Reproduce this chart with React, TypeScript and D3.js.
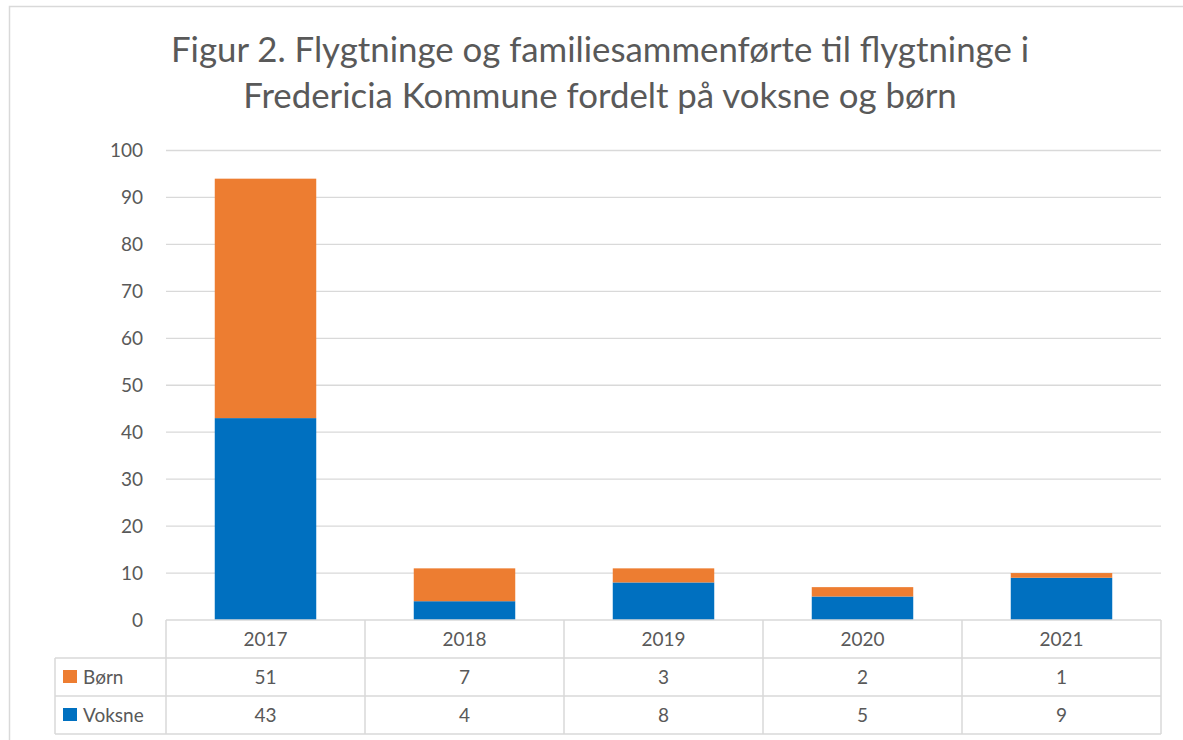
import * as d3 from "d3";
import React from "react";

const years = ["2017", "2018", "2019", "2020", "2021"];
const born = [51, 7, 3, 2, 1];
const voksne = [43, 4, 8, 5, 9];
const yTicks = [0, 10, 20, 30, 40, 50, 60, 70, 80, 90, 100];
const titleLines = [
  "Figur 2. Flygtninge og familiesammenførte til flygtninge i",
  "Fredericia Kommune fordelt på voksne og børn",
];

const series = [
  { name: "Børn", values: born, color: "#ed7d31" },
  { name: "Voksne", values: voksne, color: "#0070c0" },
];

const W = 1183, H = 740;
const plot = { left: 166, right: 1161, top: 150.5, bottom: 620 };
const rowH = 38;
const legendLeft = 55;
const font = "Lato, 'Open Sans', sans-serif";
const textColor = "#595959";
const gridColor = "#d9d9d9";

const App = () => {
  const x = d3.scaleBand().domain(years).range([plot.left, plot.right]).paddingInner(0.49).paddingOuter(0.245);
  const col = d3.scaleBand().domain(years).range([plot.left, plot.right]);
  const y = d3.scaleLinear().domain([0, 100]).range([plot.bottom, plot.top]);

  // stacked: Voksne at bottom, Børn on top
  const table = years.map((yr, i) => ({ year: yr, Voksne: voksne[i], Born: born[i] }));
  const stack = d3.stack<any>().keys(["Voksne", "Born"])(table);
  const colorOf: Record<string, string> = { Voksne: "#0070c0", Born: "#ed7d31" };

  const rowY = (r: number) => plot.bottom + r * rowH;

  return (
    <svg width={W} height={H} style={{ position: "absolute", left: 0, top: 0 }} fontFamily={font}>
      <rect x={0} y={0} width={W} height={H} fill="#fff" />
      <rect x={9.5} y={6.5} width={W + 20} height={H + 20} fill="none" stroke={gridColor} strokeWidth={1.5} />

      {titleLines.map((t, i) => (
        <text key={i} x={600} y={62 + i * 46} textAnchor="middle" fontSize={34.8} fill={textColor}>{t}</text>
      ))}

      {yTicks.map(t => (
        <g key={t}>
          {t > 0 && <line x1={plot.left} x2={plot.right} y1={y(t)} y2={y(t)} stroke={gridColor} strokeWidth={1.3} />}
          <text x={143} y={y(t)} dy="0.35em" textAnchor="end" fontSize={19} fill={textColor}>{t}</text>
        </g>
      ))}

      {stack.map(layer => (
        <g key={layer.key} fill={colorOf[layer.key]}>
          {layer.map((d, i) => (
            <rect key={i} x={x(years[i])} width={x.bandwidth()} y={y(d[1])} height={y(d[0]) - y(d[1])} />
          ))}
        </g>
      ))}

      {/* data table */}
      <g stroke={gridColor} strokeWidth={1.5} fill="none">
        <line x1={plot.left} x2={plot.right} y1={rowY(0)} y2={rowY(0)} />
        <line x1={legendLeft} x2={plot.right} y1={rowY(1)} y2={rowY(1)} />
        <line x1={legendLeft} x2={plot.right} y1={rowY(2)} y2={rowY(2)} />
        <line x1={legendLeft} x2={plot.right} y1={rowY(3)} y2={rowY(3)} />
        <line x1={legendLeft} x2={legendLeft} y1={rowY(1)} y2={rowY(3)} />
        {years.map(yr => (
          <line key={yr} x1={col(yr)!} x2={col(yr)!} y1={rowY(0)} y2={rowY(3)} />
        ))}
        <line x1={plot.right} x2={plot.right} y1={rowY(0)} y2={rowY(3)} />
      </g>

      {years.map(yr => (
        <text key={yr} x={col(yr)! + col.bandwidth() / 2} y={rowY(0) + rowH / 2} dy="0.35em" textAnchor="middle" fontSize={19} fill={textColor}>{yr}</text>
      ))}

      {series.map((s, r) => (
        <g key={s.name}>
          <rect x={63} y={rowY(r + 1) + 12} width={14} height={13} fill={s.color} />
          <text x={83} y={rowY(r + 1) + rowH / 2} dy="0.35em" fontSize={19} fill={textColor}>{s.name}</text>
          {s.values.map((v, i) => (
            <text key={i} x={col(years[i])! + col.bandwidth() / 2} y={rowY(r + 1) + rowH / 2} dy="0.35em" textAnchor="middle" fontSize={19} fill={textColor}>{v}</text>
          ))}
        </g>
      ))}
    </svg>
  );
};

export default App;
